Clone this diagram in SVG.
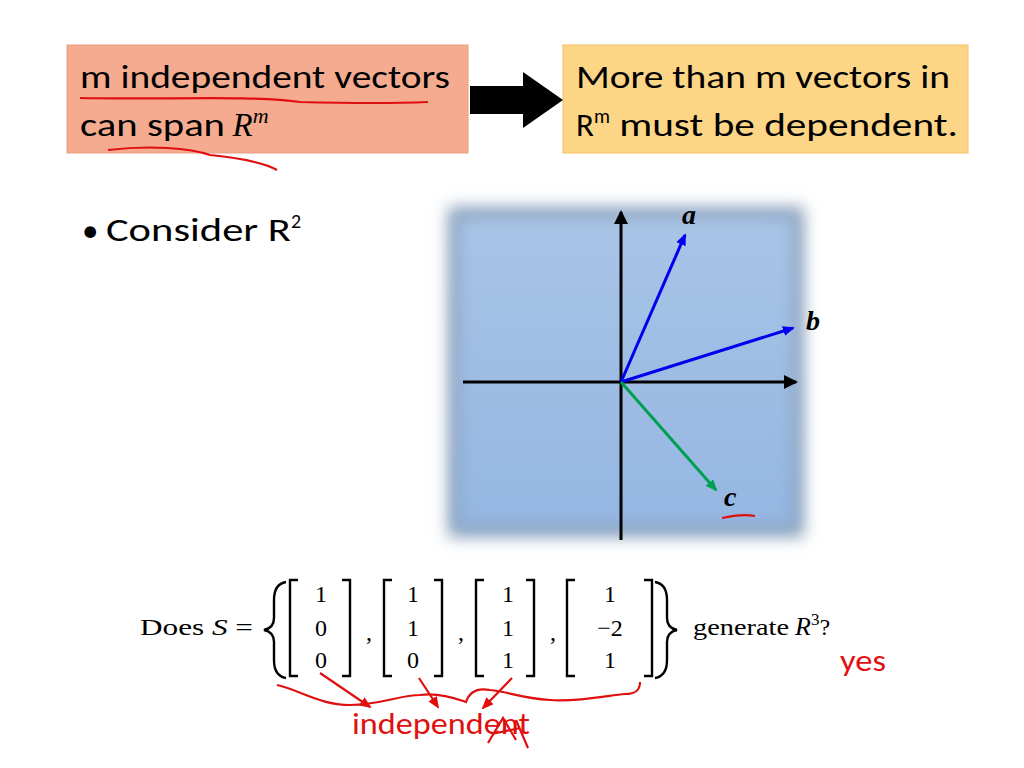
<svg xmlns="http://www.w3.org/2000/svg" width="1024" height="768" viewBox="0 0 1024 768">
<style>
.t{font-family:Calibri,"Carlito","Liberation Sans",sans-serif;font-size:33px;fill:#000}
.m{font-family:"Liberation Serif",serif;font-size:24px;fill:#000}
.red{fill:none;stroke:#e01010;stroke-width:2.2}
.br{fill:none;stroke:#000;stroke-width:2.4}
</style>
<defs>
<filter id="bl" x="-10%" y="-10%" width="120%" height="120%"><feGaussianBlur stdDeviation="8"/></filter>
<linearGradient id="bg" x1="0" y1="0" x2="0" y2="1"><stop offset="0" stop-color="#a9c4e6"/><stop offset="1" stop-color="#94b6e2"/></linearGradient>
<marker id="ak" markerWidth="14" markerHeight="14" refX="12" refY="7" orient="auto" markerUnits="userSpaceOnUse"><path d="M0,0 L14,7 L0,14 z" fill="#000"/></marker>
<marker id="ab" markerWidth="12" markerHeight="10" refX="10" refY="5" orient="auto" markerUnits="userSpaceOnUse"><path d="M0,0 L12,5 L0,10 z" fill="#0000ee"/></marker>
<marker id="ag" markerWidth="12" markerHeight="10" refX="10" refY="5" orient="auto" markerUnits="userSpaceOnUse"><path d="M0,0 L12,5 L0,10 z" fill="#00a050"/></marker>
<marker id="ar" markerWidth="12" markerHeight="10" refX="10" refY="5" orient="auto" markerUnits="userSpaceOnUse"><path d="M0,0 L12,5 L0,10 z" fill="#e01010"/></marker>
</defs>
<rect width="1024" height="768" fill="#fff"/>
<g id="box1">
<rect x="67" y="45" width="401" height="108" fill="#f4ab8f" stroke="#e8a080"/>
<text class="t" x="80" y="88" textLength="370" lengthAdjust="spacingAndGlyphs">m independent vectors</text>
<text class="t" x="80" y="136"><tspan textLength="145" lengthAdjust="spacingAndGlyphs">can span</tspan> <tspan font-family="Liberation Serif" font-style="italic">R</tspan><tspan font-family="Liberation Serif" font-style="italic" font-size="22" dy="-13">m</tspan></text>
</g>
<g id="box2">
<rect x="563" y="45" width="405" height="108" fill="#fdd586" stroke="#f0c060"/>
<text class="t" x="576" y="88" textLength="374" lengthAdjust="spacingAndGlyphs">More than m vectors in</text>
<text class="t" x="576" y="136">R<tspan font-size="20" dy="-13">m</tspan><tspan dy="13" textLength="348" lengthAdjust="spacingAndGlyphs"> must be dependent.</tspan></text>
</g>
<g id="connectors">
<path d="M470,86 H523 V72 L563,100 L523,128 V114 H470 z" fill="#000"/>
</g>
<text class="t" x="82" y="241">• <tspan textLength="185" lengthAdjust="spacingAndGlyphs">Consider R</tspan><tspan font-size="20" dy="-13">2</tspan></text>
<g id="plot">
<rect x="448" y="207" width="356" height="330" fill="#8aa0bb" filter="url(#bl)"/>
<rect x="458" y="217" width="336" height="310" fill="url(#bg)" filter="url(#bl)"/>
<line x1="621" y1="540" x2="621" y2="212" stroke="#000" stroke-width="3" marker-end="url(#ak)"/>
<line x1="463" y1="382" x2="796" y2="382" stroke="#000" stroke-width="3" marker-end="url(#ak)"/>
<line x1="621" y1="382" x2="685" y2="235" stroke="#0000ee" stroke-width="3" marker-end="url(#ab)"/>
<line x1="621" y1="382" x2="793" y2="328" stroke="#0000ee" stroke-width="3" marker-end="url(#ab)"/>
<line x1="621" y1="382" x2="716" y2="490" stroke="#00a050" stroke-width="3" marker-end="url(#ag)"/>
<text x="682" y="224" font-family="Liberation Serif" font-weight="bold" font-style="italic" font-size="28">a</text>
<text x="806" y="330" font-family="Liberation Serif" font-weight="bold" font-style="italic" font-size="28">b</text>
<text x="724" y="506" font-family="Liberation Serif" font-weight="bold" font-style="italic" font-size="28">c</text>
</g>
<g id="formula">
<text class="m" x="140" y="635" textLength="113" lengthAdjust="spacingAndGlyphs">Does <tspan font-style="italic">S</tspan> =</text>
<path class="br" d="M286,582 Q274,584 274,600 V618 Q274,628 264,630 Q274,632 274,642 V660 Q274,676 286,678"/>
<path class="br" d="M655,582 Q667,584 667,600 V618 Q667,628 677,630 Q667,632 667,642 V660 Q667,676 655,678"/>
<path class="br" d="M298,580 H290 V676 H298 M342,580 H350 V676 H342"/>
<path class="br" d="M392,580 H384 V676 H392 M434,580 H442 V676 H434"/>
<path class="br" d="M484,580 H476 V676 H484 M526,580 H534 V676 H526"/>
<path class="br" d="M575,580 H567 V676 H575 M644,580 H652 V676 H644"/>
<g class="m" text-anchor="middle">
<text x="321" y="602">1</text><text x="321" y="636">0</text><text x="321" y="668">0</text>
<text x="413" y="602">1</text><text x="413" y="636">1</text><text x="413" y="668">0</text>
<text x="508" y="602">1</text><text x="508" y="636">1</text><text x="508" y="668">1</text>
<text x="610" y="602">1</text><text x="610" y="636">−2</text><text x="610" y="668">1</text>
<text x="369" y="640">,</text><text x="461" y="640">,</text><text x="553" y="640">,</text>
</g>
<text class="m" x="693" y="635"><tspan textLength="96" lengthAdjust="spacingAndGlyphs">generate</tspan> <tspan font-style="italic" font-size="26">R</tspan><tspan font-size="17" dy="-10">3</tspan><tspan dy="10">?</tspan></text>
</g>
<g id="ink">
<path class="red" d="M80,98 C160,100 250,95 300,102 C340,103 380,104 428,102"/>
<path class="red" d="M108,150 C150,145 190,148 210,155 C240,158 265,163 277,170"/>
<path class="red" d="M722,518 C735,515 745,514 755,516"/>
<path class="red" d="M277,685 C300,690 320,705 350,705 C380,705 400,695 420,695 C440,692 460,700 466,702 C470,690 480,688 490,690 C510,692 520,698 550,700 C580,702 610,695 625,694 C636,694 640,690 640,682"/>
<line class="red" x1="320" y1="673" x2="370" y2="707" marker-end="url(#ar)" stroke-width="2.5"/>
<line class="red" x1="419" y1="678" x2="438" y2="707" marker-end="url(#ar)" stroke-width="2.5"/>
<line class="red" x1="512" y1="678" x2="483" y2="708" marker-end="url(#ar)" stroke-width="2.5"/>
<text x="352" y="734" font-family="Calibri,Carlito,'Liberation Sans',sans-serif" font-size="30" fill="#e01010" textLength="178" lengthAdjust="spacingAndGlyphs">independent</text>
<path class="red" d="M488,743 L503,718 L516,740 M492,734 L520,728 M516,720 L528,748"/>
<text x="840" y="671" font-family="Calibri,Carlito,'Liberation Sans',sans-serif" font-size="30" fill="#e01010" textLength="46" lengthAdjust="spacingAndGlyphs">yes</text>
</g>
</svg>
